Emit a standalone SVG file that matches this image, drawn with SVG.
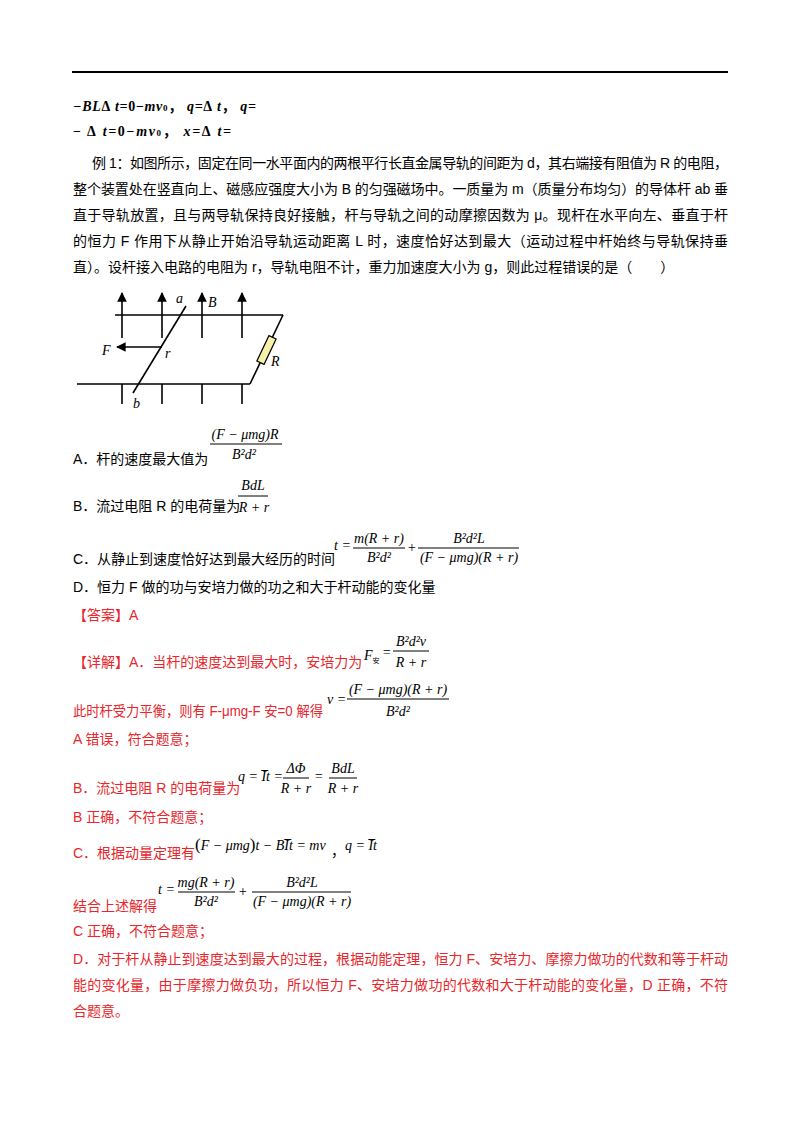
<svg xmlns="http://www.w3.org/2000/svg" width="800" height="1132" viewBox="0 0 800 1132">
<style>
.t{font-family:"Liberation Sans","Noto Sans CJK SC",sans-serif;font-size:14px;fill:#000}
.r{fill:#e8262b}
.m{font-family:"Liberation Serif","Noto Sans CJK SC",serif;font-style:italic;font-size:14px;fill:#000}
.c{text-anchor:middle}
.ln{stroke:#000;stroke-width:1;fill:none}
.fig{stroke:#000;stroke-width:1.6;fill:none}
</style>
<defs>
<marker id="ar" viewBox="0 0 10 10" refX="9" refY="5" markerWidth="6" markerHeight="6" orient="auto"><path d="M0,0L10,5L0,10z" fill="#000"/></marker>
</defs>
<rect width="800" height="1132" fill="#fff"/>
<line x1="72" y1="72" x2="728" y2="72" stroke="#000" stroke-width="2"/>
<text class="m" x="73" y="111" font-size="15" font-weight="bold" textLength="183" lengthAdjust="spacing">−BL<tspan font-style="normal">Δ</tspan> t=<tspan font-style="normal">0−</tspan>mv<tspan font-size="9" font-style="normal">0</tspan><tspan font-style="normal">，</tspan> q=<tspan font-style="normal">Δ</tspan> t<tspan font-style="normal">，</tspan> q=</text>
<text class="m" x="73" y="136" font-size="15" font-weight="bold" textLength="158" lengthAdjust="spacing"><tspan font-style="normal">− Δ</tspan> t=<tspan font-style="normal">0−</tspan>mv<tspan font-size="9" font-style="normal">0</tspan><tspan font-style="normal">，</tspan> x=<tspan font-style="normal">Δ</tspan> t=</text>
<g id="question">
<text class="t" x="92" y="168" textLength="636" lengthAdjust="spacing">例 1：如图所示，固定在同一水平面内的两根平行长直金属导轨的间距为 d，其右端接有阻值为 R 的电阻，</text>
<text class="t" x="73" y="194" textLength="655" lengthAdjust="spacing">整个装置处在竖直向上、磁感应强度大小为 B 的匀强磁场中。一质量为 m（质量分布均匀）的导体杆 ab 垂</text>
<text class="t" x="73" y="220" textLength="655" lengthAdjust="spacing">直于导轨放置，且与两导轨保持良好接触，杆与导轨之间的动摩擦因数为 μ。现杆在水平向左、垂直于杆</text>
<text class="t" x="73" y="246" textLength="655" lengthAdjust="spacing">的恒力 F 作用下从静止开始沿导轨运动距离 L 时，速度恰好达到最大（运动过程中杆始终与导轨保持垂</text>
<text class="t" x="73" y="272">直）。设杆接入电路的电阻为 r，导轨电阻不计，重力加速度大小为 g，则此过程错误的是（　　）</text>
</g>
<g id="figure">
<line class="fig" x1="115" y1="315" x2="283" y2="315"/>
<line class="fig" x1="77" y1="384" x2="250" y2="384"/>
<line class="fig" x1="283" y1="315" x2="250" y2="384"/>
<rect x="-4" y="-14" width="8" height="28" fill="#f6f0a8" stroke="#000" stroke-width="1.2" transform="translate(266.5,350) rotate(25.5)"/>
<line class="fig" x1="186" y1="306" x2="133" y2="393"/>
<g class="fig" marker-end="url(#ar)">
<line x1="122" y1="338" x2="122" y2="293"/>
<line x1="162" y1="338" x2="162" y2="293"/>
<line x1="202" y1="338" x2="202" y2="293"/>
<line x1="242" y1="338" x2="242" y2="293"/>
<line x1="162" y1="347" x2="117" y2="347"/>
</g>
<g class="fig">
<line x1="122" y1="384" x2="122" y2="404"/>
<line x1="162" y1="384" x2="162" y2="404"/>
<line x1="202" y1="384" x2="202" y2="404"/>
<line x1="242" y1="384" x2="242" y2="404"/>
</g>
<text class="m" font-size="17" x="176" y="303">a</text>
<text class="m" font-size="17" x="208" y="307">B</text>
<text class="m" font-size="17" x="102" y="355">F</text>
<text class="m" font-size="16" x="165" y="358">r</text>
<text class="m" font-size="17" x="271" y="366">R</text>
<text class="m" font-size="17" x="133" y="408">b</text>
</g>
<g id="options">
<text class="t" x="73" y="464">A．杆的速度最大值为</text>
<text class="m c" x="245" y="439">(F − μmg)R</text><line class="ln" x1="210" y1="444" x2="282" y2="444"/><text class="m c" x="244" y="459">B²d²</text>
<text class="t" x="73" y="511">B．流过电阻 R 的电荷量为</text>
<text class="m c" x="253" y="490">BdL</text><line class="ln" x1="238" y1="496" x2="268" y2="496"/><text class="m c" x="254" y="512">R + r</text>
<text class="t" x="73" y="564">C．从静止到速度恰好达到最大经历的时间</text>
<text class="m" x="334" y="550">t =</text>
<text class="m c" x="379" y="543">m(R + r)</text><line class="ln" x1="353" y1="548" x2="405" y2="548"/><text class="m c" x="379" y="562">B²d²</text>
<text class="m" x="407" y="552" font-style="normal">+</text>
<text class="m c" x="469" y="543">B²d²L</text><line class="ln" x1="418" y1="548" x2="519" y2="548"/><text class="m c" x="469" y="562">(F − μmg)(R + r)</text>
<text class="t" x="73" y="592">D．恒力 F 做的功与安培力做的功之和大于杆动能的变化量</text>
</g>
<g id="answer">
<text class="t r" x="73" y="620">【答案】A</text>
<text class="t r" x="73" y="667">【详解】A．当杆的速度达到最大时，安培力为</text>
<text class="m" x="364" y="660">F<tspan font-size="7" dy="3" font-style="normal">安</tspan></text>
<text class="m" x="382" y="657" font-style="normal" font-size="11">=</text>
<text class="m c" x="411" y="646">B²d²v</text><line class="ln" x1="393" y1="651" x2="429" y2="651"/><text class="m c" x="411" y="667">R + r</text>
<text class="t r" x="73" y="716" textLength="250" lengthAdjust="spacingAndGlyphs">此时杆受力平衡，则有 F-μmg-F 安=0 解得</text>
<text class="m" x="327" y="704">v =</text>
<text class="m c" x="398" y="694">(F − μmg)(R + r)</text><line class="ln" x1="347" y1="699" x2="449" y2="699"/><text class="m c" x="398" y="716">B²d²</text>
<text class="t r" x="73" y="744">A 错误，符合题意；</text>
<text class="t r" x="73" y="793">B．流过电阻 R 的电荷量为</text>
<text class="m" x="238" y="781">q = I̅t =</text>
<text class="m c" x="296" y="773" font-style="normal">ΔΦ</text><line class="ln" x1="283" y1="778" x2="309" y2="778"/><text class="m c" x="296" y="793">R + r</text>
<text class="m" x="314" y="781" font-style="normal">=</text>
<text class="m c" x="343" y="773">BdL</text><line class="ln" x1="329" y1="778" x2="357" y2="778"/><text class="m c" x="343" y="793">R + r</text>
<text class="t r" x="73" y="822">B 正确，不符合题意；</text>
<text class="t r" x="73" y="858">C．根据动量定理有</text>
<text class="m" x="195" y="850"><tspan font-size="17" font-style="normal">(</tspan>F − μmg<tspan font-size="17" font-style="normal">)</tspan>t − BI̅t = mv</text>
<text class="t" x="331" y="856">，</text>
<text class="m" x="345" y="850">q = I̅t</text>
<text class="t r" x="73" y="911">结合上述解得</text>
<text class="m" x="158" y="894">t =</text>
<text class="m c" x="206" y="887">mg(R + r)</text><line class="ln" x1="178" y1="892" x2="235" y2="892"/><text class="m c" x="206" y="906">B²d²</text>
<text class="m" x="238" y="896" font-style="normal">+</text>
<text class="m c" x="302" y="887">B²d²L</text><line class="ln" x1="252" y1="892" x2="351" y2="892"/><text class="m c" x="302" y="906">(F − μmg)(R + r)</text>
<text class="t r" x="73" y="936">C 正确，不符合题意；</text>
<text class="t r" x="73" y="964" textLength="655" lengthAdjust="spacing">D．对于杆从静止到速度达到最大的过程，根据动能定理，恒力 F、安培力、摩擦力做功的代数和等于杆动</text>
<text class="t r" x="73" y="990" textLength="655" lengthAdjust="spacing">能的变化量，由于摩擦力做负功，所以恒力 F、安培力做功的代数和大于杆动能的变化量，D 正确，不符</text>
<text class="t r" x="73" y="1016">合题意。</text>
</g>
</svg>
